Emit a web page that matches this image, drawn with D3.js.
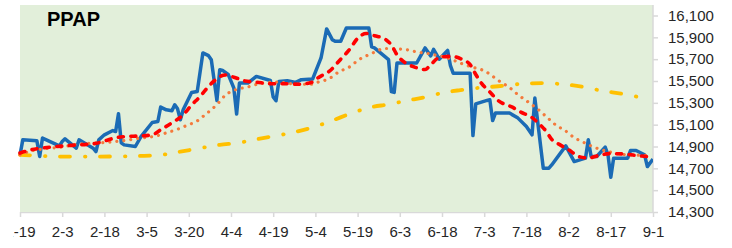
<!DOCTYPE html>
<html>
<head>
<meta charset="utf-8">
<script src="https://cdn.jsdelivr.net/npm/d3@7"></script>
<style>
  html, body { margin: 0; padding: 0; background: #ffffff; }
  svg { display: block; }
  text { font-family: "Liberation Sans", Arial, sans-serif; }
</style>
</head>
<body>
<svg id="chart" width="732" height="248"></svg>
<script>
// ---------- data ----------
const YEAR = 2023;
const title = "PPAP";

const priceDates = ["1-19","1-20","1-25","1-26","1-27","2-2","2-3","2-4","2-8","2-9","2-14","2-15","2-16","2-18","2-21","2-22","2-23","2-24","2-25","3-1","3-3","3-7","3-9","3-10","3-12","3-14","3-15","3-16","3-17","3-18","3-21","3-23","3-25","3-27","3-28","3-30","3-31","4-1","4-3","4-5","4-6","4-7","4-10","4-13","4-18","4-19","4-20","4-21","4-24","4-27","4-29","5-3","5-6","5-8","5-10","5-11","5-13","5-15","5-23","5-24","5-25","5-30","5-31","6-1","6-2","6-9","6-12","6-14","6-15","6-17","6-20","6-21","6-22","6-28","6-29","6-30","7-4","7-5","7-6","7-7","7-12","7-15","7-18","7-20","7-21","7-24","7-26","7-27","8-1","8-4","8-6","8-8","8-9","8-10","8-12","8-15","8-16","8-17","8-18","8-23","8-24","8-26","8-29","8-30","9-1"];
const priceValues = [14823,14961,14952,14808,14977,14906,14945,14970,14885,14961,14885,14854,14961,15007,15046,15037,15200,14933,14915,14900,14991,15120,15129,15261,15236,15227,15282,15245,15145,15236,15395,15404,15757,15732,15695,15322,15604,15597,15560,15436,15197,15481,15481,15542,15505,15353,15319,15496,15503,15487,15512,15518,15711,15977,15879,15864,15864,15986,15986,15812,15803,15695,15404,15395,15665,15665,15803,15730,15790,15700,15780,15640,15570,15570,15000,15291,15322,15328,15138,15206,15206,15160,15083,15007,15344,14701,14701,14731,14906,14762,14777,14793,14961,14808,14808,14894,14823,14618,14793,14793,14863,14863,14823,14716,14784];

const maShortDates = ["1-19","1-23","1-30","2-6","2-15","2-18","2-22","2-25","3-3","3-7","3-10","3-14","3-18","3-21","3-24","3-26","3-29","4-2","4-5","4-9","4-13","4-18","4-23","4-28","5-3","5-5","5-9","5-13","5-16","5-19","5-22","5-25","5-29","5-31","6-2","6-5","6-8","6-12","6-14","6-17","6-21","6-25","6-28","6-30","7-2","7-5","7-8","7-13","7-16","7-20","7-22","7-25","7-27","7-30","8-2","8-6","8-9","8-13","8-17","8-22","8-27","8-31"];
const maShortValues = [14840,14870,14895,14910,14929,14950,14980,14990,14997,15007,15053,15117,15190,15280,15358,15420,15500,15555,15535,15500,15490,15475,15475,15470,15490,15530,15590,15700,15785,15890,15935,15915,15880,15830,15740,15665,15630,15605,15650,15715,15726,15700,15650,15560,15480,15400,15320,15260,15215,15165,15120,15040,14965,14915,14870,14805,14795,14820,14835,14830,14815,14805];

const maMidDates = ["1-19","1-23","1-28","2-3","2-8","2-14","2-20","2-25","3-3","3-9","3-12","3-16","3-19","3-23","3-26","3-30","4-2","4-7","4-10","4-12","4-20","4-27","5-3","5-5","5-8","5-10","5-12","5-14","5-17","5-19","5-21","5-23","5-26","5-28","5-30","6-2","6-5","6-7","6-9","6-12","6-15","6-20","6-25","6-29","7-2","7-4","7-8","7-11","7-13","7-15","7-17","7-20","7-23","7-25","7-27","7-29","7-31","8-2","8-4","8-6","8-11","8-16","8-21","8-25","8-31"];
const maMidValues = [14823,14860,14880,14895,14920,14930,14940,14955,14978,15000,15025,15058,15090,15135,15195,15285,15370,15430,15445,15462,15490,15472,15470,15490,15512,15540,15578,15604,15643,15689,15717,15741,15775,15796,15798,15795,15788,15780,15765,15757,15741,15711,15659,15625,15604,15579,15505,15457,15420,15374,15337,15282,15221,15175,15129,15085,15059,15022,14980,14955,14894,14854,14828,14823,14818];

const maLongDates = ["1-19","1-24","2-1","2-16","3-3","3-10","3-17","3-24","3-31","4-7","4-12","4-20","4-26","5-4","5-10","5-17","5-24","5-30","6-5","6-12","6-18","6-24","7-1","7-8","7-17","7-24","7-31","8-7","8-14","8-21","8-27","8-31"];
const maLongValues = [14823,14818,14808,14808,14814,14823,14853,14885,14915,14935,14961,14998,15028,15083,15138,15206,15262,15285,15318,15352,15390,15415,15437,15452,15475,15481,15470,15447,15410,15383,15353,15337];

const xTickDates = ["1-19","2-3","2-18","3-5","3-20","4-4","4-19","5-4","5-19","6-3","6-18","7-3","7-18","8-2","8-17","9-1"];
const yTickValues = [14300,14500,14700,14900,15100,15300,15500,15700,15900,16100];

// ---------- helpers ----------
const parseMD = s => { const [m, d] = s.split("-").map(Number); return new Date(YEAR, m - 1, d); };
const zip = (ds, vs) => ds.map((d, i) => ({ date: parseMD(d), value: vs[i] }));

const svg = d3.select("#chart");
const plotLeft = 20, plotRight = 653, plotTop = 5, plotBottom = 212;

const x = d3.scaleTime()
  .domain([parseMD("1-19"), parseMD("9-1")])
  .range([plotLeft, plotRight]);
const y = d3.scaleLinear()
  .domain([14300, 16100])
  .range([plotBottom, 15.5]);

// plot background
svg.append("rect")
  .attr("x", plotLeft).attr("y", plotTop)
  .attr("width", plotRight - plotLeft).attr("height", plotBottom - plotTop)
  .attr("fill", "#E2EFDA");

const defs = svg.append("defs");
defs.append("clipPath").attr("id", "xclip")
  .append("rect").attr("x", 13.5).attr("y", 0).attr("width", 732).attr("height", 248);
defs.append("clipPath").attr("id", "plotclip")
  .append("rect").attr("x", plotLeft - 3).attr("y", plotTop).attr("width", plotRight - plotLeft + 3).attr("height", plotBottom - plotTop);

// axes
const xAxis = d3.axisBottom(x)
  .tickValues(xTickDates.map(parseMD))
  .tickFormat(d3.timeFormat("%-m-%-d"))
  .tickSize(5).tickSizeOuter(0).tickPadding(9);
const gx = svg.append("g")
  .attr("transform", `translate(0,${plotBottom})`)
  .attr("clip-path", "url(#xclip)")
  .call(xAxis);
gx.select(".domain").attr("stroke", "#D9D9D9").attr("stroke-width", 1.5);
gx.selectAll(".tick line").attr("stroke", "#D9D9D9").attr("stroke-width", 1.5);
gx.selectAll(".tick text").attr("font-size", 15).attr("fill", "#262626")
  .attr("font-family", "Liberation Sans, Arial, sans-serif");

const yAxis = d3.axisRight(y)
  .tickValues(yTickValues)
  .tickFormat(d3.format(","))
  .tickSize(5).tickSizeOuter(0).tickPadding(10);
const gy = svg.append("g")
  .attr("transform", `translate(${plotRight},0)`)
  .call(yAxis);
gy.select(".domain").attr("stroke", "#D9D9D9").attr("stroke-width", 1.5)
  .attr("d", `M0,${plotTop}V${plotBottom}`);
gy.selectAll(".tick line").attr("stroke", "#D9D9D9").attr("stroke-width", 1.5);
gy.selectAll(".tick text").attr("font-size", 15).attr("fill", "#262626")
  .attr("font-family", "Liberation Sans, Arial, sans-serif");

// lines
const lineStraight = d3.line().x(d => x(d.date)).y(d => y(d.value));
const lineSmooth = d3.line().x(d => x(d.date)).y(d => y(d.value)).curve(d3.curveMonotoneX);

const gl = svg.append("g").attr("clip-path", "url(#plotclip)");

gl.append("path").datum(zip(priceDates, priceValues))
  .attr("d", lineStraight)
  .attr("fill", "none").attr("stroke", "#1B6BB5").attr("stroke-width", 3.5)
  .attr("stroke-linejoin", "round");

gl.append("path").datum(zip(maLongDates, maLongValues))
  .attr("d", lineSmooth)
  .attr("fill", "none").attr("stroke", "#FFC000").attr("stroke-width", 3.8)
  .attr("stroke-linecap", "round")
  .attr("stroke-dasharray", "10,15,0.5,14.5");

gl.append("path").datum(zip(maMidDates, maMidValues))
  .attr("d", lineSmooth)
  .attr("fill", "none").attr("stroke", "#F47A3C").attr("stroke-width", 3.2)
  .attr("stroke-linecap", "round")
  .attr("stroke-dasharray", "0.01,7");

gl.append("path").datum(zip(maShortDates, maShortValues))
  .attr("d", lineSmooth)
  .attr("fill", "none").attr("stroke", "#FF0000").attr("stroke-width", 3.6)
  .attr("stroke-linecap", "round")
  .attr("stroke-dasharray", "5,7.5");

// title
svg.append("text")
  .attr("x", 47).attr("y", 26)
  .attr("font-size", 20).attr("font-weight", "bold").attr("fill", "#000")
  .text(title);
</script>
</body>
</html>
